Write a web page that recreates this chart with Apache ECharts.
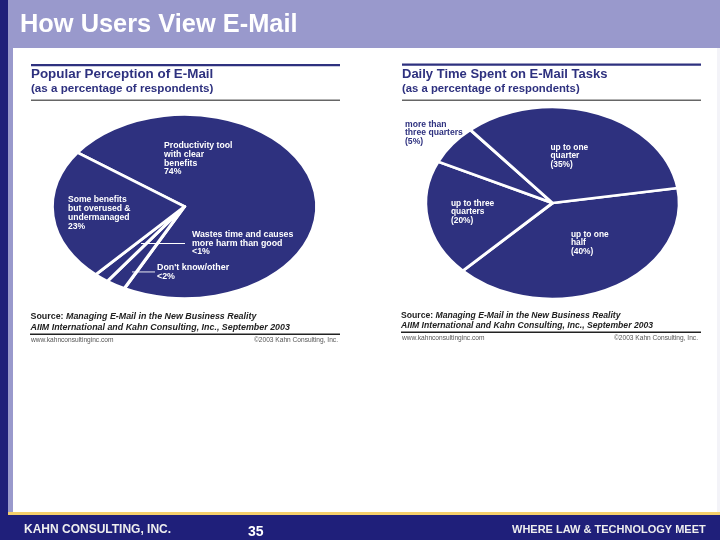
<!DOCTYPE html>
<html><head><meta charset="utf-8"><style>html,body{margin:0;padding:0;background:#fff}#c{width:720px;height:540px}</style>
<script src="https://cdn.jsdelivr.net/npm/echarts@6/dist/echarts.min.js"></script></head>
<body><div id="c"></div><script>
// Shares as drawn in the picture (percent of the ellipse's sweep); printed labels are kept separately.
const perceptionNames = ["Productivity tool with clear benefits","Don't know/other","Wastes time and causes more harm than good","Some benefits but overused & undermanaged"];
const perceptionValues = [72.5,2.4,1.8,23.3];
const timeNames = ["up to one half","up to three quarters","more than three quarters","up to one quarter"];
const timeValues = [40,19.6,6.7,33.7];
const slideTitle = "How Users View E-Mail";
const subTitle = "(as a percentage of respondents)";

const NAVY='#2e317f', BAND='#9999cc', DARK='#1f1f7a';
const FF='"Liberation Sans",Arial,sans-serif';
function pie(name,names,values,cx,cy,rx,ry,startDeg){
  const total=values.reduce((a,b)=>a+b,0);
  return {type:'custom',name,coordinateSystem:'none',z:2,silent:true,animation:false,
    data:values.map((v,i)=>({name:names[i],value:v})),
    renderItem(params,api){
      const before=values.slice(0,params.dataIndex).reduce((a,b)=>a+b,0);
      const s=startDeg*Math.PI/180+before/total*2*Math.PI;
      const e=s+api.value(0)/total*2*Math.PI;
      return {type:'sector',x:cx,y:cy,scaleX:rx/100,scaleY:ry/100,
        shape:{cx:0,cy:0,r0:0,r:100,startAngle:s,endAngle:e,clockwise:true},
        style:{fill:NAVY,stroke:'#fff',lineWidth:2.9,strokeNoScale:true,lineJoin:'round'}};
    }};
}
const els=[];
function rect(x,y,w,h,fill,z){els.push({type:'rect',z:z||0,silent:true,shape:{x,y,width:w,height:h},style:{fill}});}
function text(x,y,str,size,fill,weight,extra){els.push({type:'text',z:100,silent:true,x,y,style:Object.assign({text:str,fill,fontFamily:FF,fontSize:size,fontWeight:weight||'bold',verticalAlign:'middle',lineHeight:size*1.1},extra||{})});}
function lines(x,y,arr,size,lh,fill){arr.forEach((s,i)=>text(x,y+i*lh,s,size,fill));}
// frame
rect(0,0,720,540,'#fff');
rect(717,48,3,465,'#f3f3f8');
rect(0,0,8,540,DARK);
rect(8,0,5,514,BAND);
rect(8,0,712,48,BAND);
rect(0,515,720,25,DARK);
rect(8,512,712,3,'#f5cf6b');
text(20,25,slideTitle,25.4,'#fff');
// left panel rules
rect(31,64,309,2.2,NAVY,1); rect(31,99.5,309,1.6,'#666',1); rect(30,333.5,310,1.4,'#222',1);
text(31,74.5,'Popular Perception of E-Mail',13.4,NAVY);
text(31,88.5,subTitle,11.6,NAVY);
// right panel rules
rect(402,63.5,299,2.2,NAVY,1); rect(402,99.5,299,1.6,'#666',1); rect(401,331.5,300,1.4,'#222',1);
text(402,74,'Daily Time Spent on E-Mail Tasks',13,NAVY);
text(402,88.5,subTitle,11.3,NAVY);
// left labels
lines(164,146,['Productivity tool','with clear','benefits','74%'],8.7,8.7,'#fff');
lines(68,199.5,['Some benefits','but overused &','undermanaged','23%'],8.6,9,'#fff');
lines(192,234.5,['Wastes time and causes','more harm than good','<1%'],8.8,8.6,'#fff');
lines(157,267.5,["Don't know/other",'<2%'],8.9,9,'#fff');
rect(141,243,44,0.9,'#fff',50); rect(132,271.5,23,0.9,'#fff',50);
// right labels
lines(405,124.5,['more than','three quarters','(5%)'],8.6,8.6,NAVY);
lines(550.5,147.5,['up to one','quarter','(35%)'],8.4,8.4,'#fff');
lines(451,203.5,['up to three','quarters','(20%)'],8.4,8.4,'#fff');
lines(571,234.5,['up to one','half','(40%)'],8.4,8.4,'#fff');
// sources
function source(x,y1,y2,size){
  els.push({type:'text',z:100,silent:true,x,y:y1,style:{text:'{a|Source: }{b|Managing E-Mail in the New Business Reality}',verticalAlign:'middle',fill:'#222',rich:{a:{fontFamily:FF,fontSize:size,fontWeight:'bold',fill:'#222'},b:{fontFamily:FF,fontSize:size,fontWeight:'bold',fontStyle:'italic',fill:'#222'}}}});
  text(x,y2,'AIIM International and Kahn Consulting, Inc., September 2003',size,'#222','bold',{fontStyle:'italic'});
}
source(30.5,317,327.5,8.9); source(401,316,325.5,8.65);
text(31,340,'www.kahnconsultinginc.com',6.6,'#555','normal');
text(338,340,'©2003 Kahn Consulting, Inc.',6.6,'#555','normal',{align:'right'});
text(402,338.5,'www.kahnconsultinginc.com',6.6,'#555','normal');
text(698,338.5,'©2003 Kahn Consulting, Inc.',6.6,'#555','normal',{align:'right'});
// footer
text(24,529.5,'KAHN CONSULTING, INC.',12,'#eee');
text(512,529.5,'WHERE LAW & TECHNOLOGY MEET',11,'#eee');
text(248,532,'35',14,'#fff');
const chart=echarts.init(document.getElementById('c'),null,{renderer:'canvas'});
chart.setOption({animation:false,backgroundColor:'#fff',graphic:{elements:els},
 series:[pie('Popular Perception of E-Mail',perceptionNames,perceptionValues,184.5,206.5,132.4,91.9,-144),
         pie('Daily Time Spent on E-Mail Tasks',timeNames,timeValues,552.5,203,126.9,95.9,-9)]});
</script></body></html>
